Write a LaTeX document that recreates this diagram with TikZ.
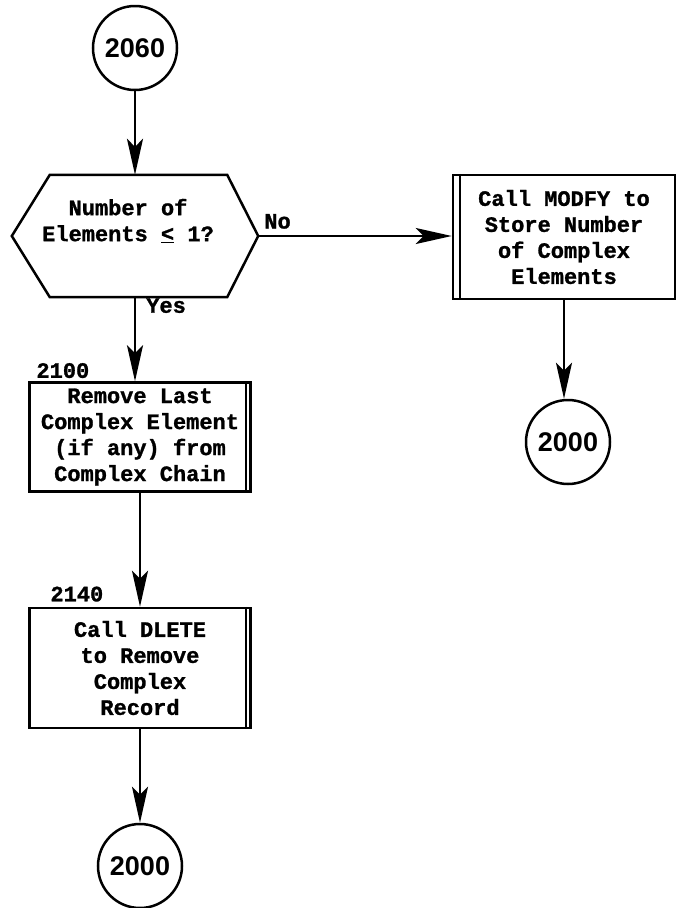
\documentclass[tikz,border=0pt]{standalone}
\usepackage{fontspec}
\setmonofont{Liberation Mono}[BoldFeatures={FakeBold=1.2}]
\setsansfont{Liberation Sans}
\usetikzlibrary{arrows.meta}
\begin{document}
\begin{tikzpicture}[x=1pt,y=-1pt,
  line/.style={line width=2.5pt},
  txt/.style={font=\ttfamily\bfseries\fontsize{22}{26}\selectfont, align=center, inner sep=0pt},
  conn/.style={circle, draw, line width=2.5pt, minimum size=84pt, inner sep=0pt,
    font=\sffamily\bfseries\fontsize{27}{27}\selectfont},
  proc/.style={draw, line width=2.5pt, inner sep=0pt, align=center,
    font=\ttfamily\bfseries\fontsize{22}{26}\selectfont},
  arr/.style={-{Stealth[length=36pt,width=16pt,inset=8pt]}, line width=2.5pt},
  lbl/.style={font=\ttfamily\bfseries\fontsize{22}{26}\selectfont, inner sep=0pt}
]
\useasboundingbox (0,0) rectangle (676,908);

% start connector
\node[conn] (c1) at (135,48) {2060};

% decision hexagon
\node[minimum width=246pt, minimum height=122pt, inner sep=0pt] (hx) at (135,236) {};
\draw[line] (hx.west) -- ([xshift=38pt]hx.north west) -- ([xshift=-31pt]hx.north east)
  -- (hx.east) -- ([xshift=-31pt]hx.south east) -- ([xshift=38pt]hx.south west) -- cycle;
\node[txt] (hxt) at (128,221) {Number of\\Elements \underline{<} 1?};

% right process box
\node[proc, minimum width=222pt, minimum height=124pt] (rb) at (564,237)
  {Call MODFY to\\Store Number\\of Complex\\Elements};
\draw[line] ([xshift=8pt]rb.north west) -- ([xshift=8pt]rb.south west);

\node[conn] (c2) at (568,442) {2000};

% box 2100
\node[proc, minimum width=221pt, minimum height=109pt] (b1) at (140,437)
  {Remove Last\\Complex Element\\(if any) from\\Complex Chain};
\draw[line] ([xshift=-6pt]b1.north east) -- ([xshift=-6pt]b1.south east);
\node[lbl, anchor=south west] (l1) at ([xshift=8pt,yshift=3pt]b1.north west) {2100};

% box 2140
\node[proc, minimum width=221pt, minimum height=120pt] (b2) at (140,668)
  {Call DLETE\\to Remove\\Complex\\Record};
\draw[line] ([xshift=-6pt]b2.north east) -- ([xshift=-6pt]b2.south east);
\node[lbl, anchor=south west] (l2) at ([xshift=22pt,yshift=5pt]b2.north west) {2140};

\node[conn] (c3) at (140,866) {2000};

% connectors
\draw[arr] (c1) -- (hx);
\draw[arr] (hx.east) -- (hx.east -| rb.west) node[lbl, pos=0.1, anchor=south, yshift=6pt] (no) {No};
\draw[arr] (rb.south) -- (rb.south |- c2.north);
\draw[arr] (hx.south) -- (hx.south |- b1.north) node[lbl, pos=0.1, anchor=west, xshift=10pt] (yes) {Yes};
\draw[arr] (b1.south) -- (b2.north);
\draw[arr] (b2) -- (c3);
\end{tikzpicture}
\end{document}
